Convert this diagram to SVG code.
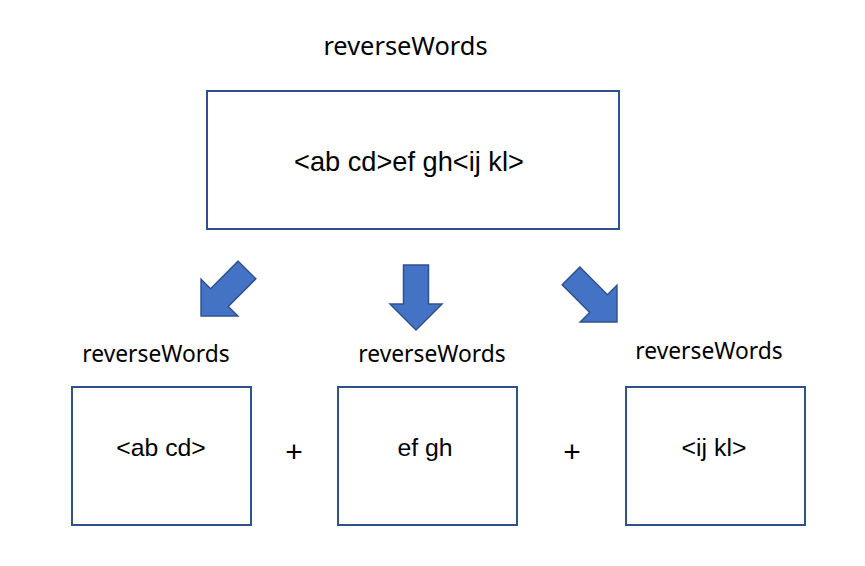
<svg xmlns="http://www.w3.org/2000/svg" width="865" height="566" viewBox="0 0 865 566">
<style>
.box{fill:#fff;stroke:#2F528F;stroke-width:2}
.arr{fill:#4472C4;stroke:#2F528F;stroke-width:1.5;stroke-linejoin:miter}
text{font-family:"Liberation Sans",Arial,sans-serif;fill:#000;text-anchor:middle}
.lbl{font-family:"Noto Sans","Open Sans",sans-serif}
.t1{font-size:25.4px}
.t2{font-size:22.8px}
.tm{font-size:27.2px}
.t3{font-size:24.8px}
.plus{font-size:30px}
</style>
<defs>
<path id="dn" d="M -12.5 0 H 12.5 V 39 H 26 L 0 65 L -26 39 H -12.5 Z"/>
</defs>
<rect width="865" height="566" fill="#fff"/>
<text class="lbl t1" x="405.5" y="55">reverseWords</text>
<g id="main">
<rect class="box" x="207" y="91" width="412" height="138"/>
<text class="tm" x="409" y="171">&lt;ab cd&gt;ef gh&lt;ij kl&gt;</text>
</g>
<g id="connectors">
<use href="#dn" class="arr" transform="translate(247,270) rotate(45)"/>
<use href="#dn" class="arr" transform="translate(416,265)"/>
<use href="#dn" class="arr" transform="translate(571,276) rotate(-45)"/>
</g>
<g id="left">
<text class="lbl t2" x="156" y="362">reverseWords</text>
<rect class="box" x="72" y="387" width="179" height="138"/>
<text class="t3" x="161" y="456">&lt;ab cd&gt;</text>
</g>
<text class="plus" x="294" y="462">+</text>
<g id="middle">
<text class="lbl t2" x="432" y="362">reverseWords</text>
<rect class="box" x="338" y="387" width="179" height="138"/>
<text class="t3" x="425" y="456">ef gh</text>
</g>
<text class="plus" x="572" y="462">+</text>
<g id="right">
<text class="lbl t2" x="709" y="359">reverseWords</text>
<rect class="box" x="626" y="387" width="179" height="138"/>
<text class="t3" x="714" y="456">&lt;ij kl&gt;</text>
</g>
</svg>
